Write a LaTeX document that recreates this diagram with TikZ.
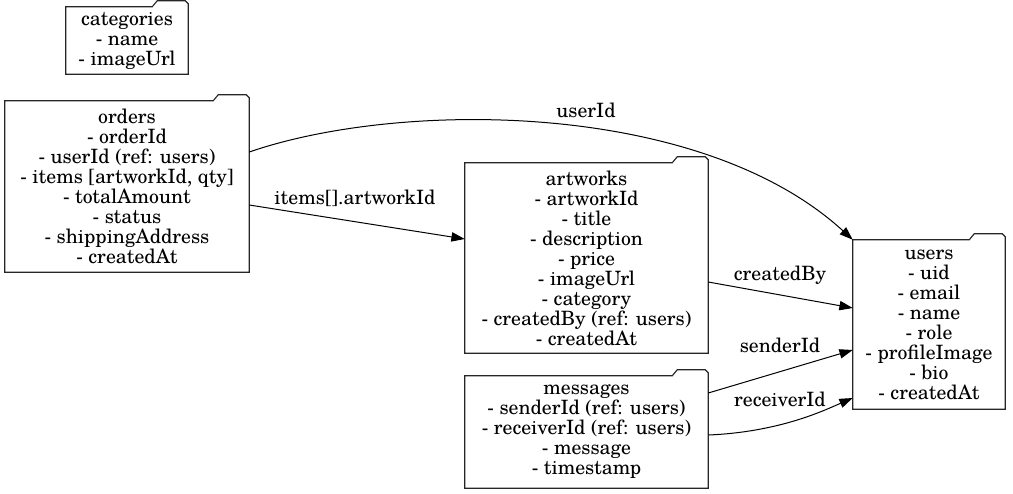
\documentclass[tikz,border=0pt]{standalone}
\usepackage{fontspec}
\setmainfont{TeX Gyre Schola}
\usetikzlibrary{arrows.meta, calc}

%% folder outline round a named node (tab on the top right)
\newcommand{\foldertab}[1]{%
  \draw[folderline] (#1.south west) -- (#1.north west)
    -- ($(#1.north east)+(-36,0)$) -- ++(5,-6)
    -- ($(#1.north east)+(-3,-6)$) -- ($(#1.north east)+(0,-3)$)
    -- (#1.south east) -- cycle;}

\tikzset{
  folder/.style={draw=none, inner sep=0pt, align=center,
    font=\fontsize{14.8}{15}\selectfont},
  folderline/.style={line width=0.85pt, draw=black!85},
  rel/.style={line width=0.75pt, -{Triangle[length=10pt, width=7pt]}},
  lbl/.style={inner sep=0pt, font=\fontsize{14.8}{15}\selectfont}
}

\begin{document}
\begin{tikzpicture}[x=0.75pt, y=-0.75pt]

%% picture size in px
\useasboundingbox (0,0) rectangle (1013,493);

%% collections
\node[folder, minimum width=91.5pt, minimum height=50.25pt] at (127, 40.5) (categories)
  {categories\\- name\\- imageUrl};
\node[folder, minimum width=183pt, minimum height=128.25pt] at (127, 186.5) (orders)
  {orders\\- orderId\\- userId (ref: users)\\- items [artworkId, qty]\\- totalAmount\\- status\\- shippingAddress\\- createdAt};
\node[folder, minimum width=182.25pt, minimum height=142.5pt] at (586.5, 258) (artworks)
  {artworks\\- artworkId\\- title\\- description\\- price\\- imageUrl\\- category\\- createdBy (ref: users)\\- createdAt};
\node[folder, minimum width=182.25pt, minimum height=84pt] at (586.5, 432) (messages)
  {messages\\- senderId (ref: users)\\- receiverId (ref: users)\\- message\\- timestamp};
\node[folder, minimum width=114pt, minimum height=126.75pt] at (929, 324.5) (users)
  {users\\- uid\\- email\\- name\\- role\\- profileImage\\- bio\\- createdAt};

\foldertab{categories}
\foldertab{orders}
\foldertab{artworks}
\foldertab{messages}
\foldertab{users}

%% references
\draw[rel] ($(orders.east)+(0,-34.5)$) .. controls (400,100) and (700,100) .. (users.north west);
\node[lbl] at (586, 110) (lUser) {userId};

\draw[rel] ($(orders.east)+(0,18.5)$) -- ($(artworks.west)+(0,-19)$);
\node[lbl] at (355, 198) (lItems) {items[].artworkId};

\draw[rel] ($(artworks.east)+(0,24)$) -- ($(users.west)+(0,-16.5)$);
\node[lbl] at (780, 275) (lCreated) {createdBy};

\draw[rel] ($(messages.east)+(0,-39)$) -- ($(users.west)+(0,25.5)$);
\node[lbl] at (780, 345) (lSender) {senderId};

\draw[rel] ($(messages.east)+(0,3)$) .. controls (780,432) and (825,410) .. ($(users.west)+(0,73.5)$);
\node[lbl] at (780, 399) (lReceiver) {receiverId};

\end{tikzpicture}
\end{document}
